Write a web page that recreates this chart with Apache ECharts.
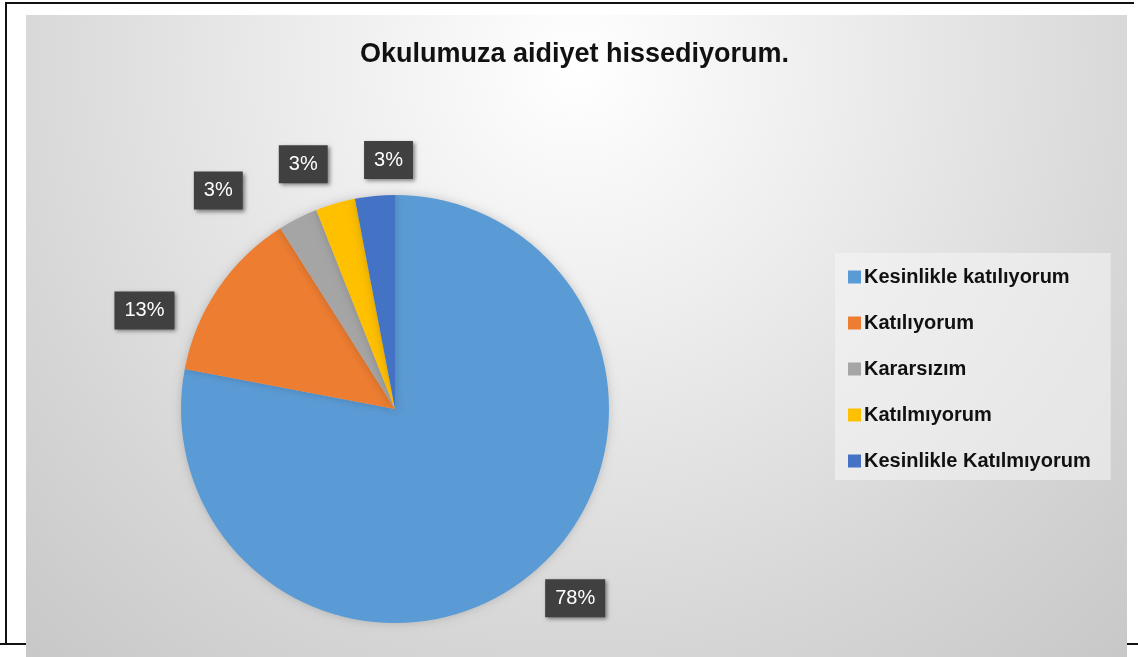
<!DOCTYPE html>
<html>
<head>
<meta charset="utf-8">
<script src="https://cdn.jsdelivr.net/npm/echarts@6/dist/echarts.min.js"></script>
<style>
html,body{margin:0;padding:0;background:#ffffff;}
#chart{width:1138px;height:657px;}
</style>
</head>
<body>
<div id="chart"></div>
<script>
const titleText = 'Okulumuza aidiyet hissediyorum.';
const categories = ['Kesinlikle katılıyorum', 'Katılıyorum', 'Kararsızım', 'Katılmıyorum', 'Kesinlikle Katılmıyorum'];
const values = [78, 13, 3, 3, 3];
const colors = ['#5B9BD5', '#ED7D31', '#A5A5A5', '#FFC000', '#4472C4'];
// small nudges of the data labels from their default "outside" spot
const labelNudge = [[-14, 9], [-12, 33], [-31, -10], [13, -20], [55, -16]];

const chart = echarts.init(document.getElementById('chart'), null, {renderer: 'canvas'});
const option = {
  animation: false,
  color: colors,
  graphic: [
    {type: 'line', z: 0, shape: {x1: 6, y1: 2, x2: 6, y2: 645}, style: {stroke: '#111', lineWidth: 2}},
    {type: 'line', z: 0, shape: {x1: 5, y1: 3, x2: 1134, y2: 3}, style: {stroke: '#111', lineWidth: 2}},
    {type: 'line', z: 0, shape: {x1: 0, y1: 644, x2: 1138, y2: 644}, style: {stroke: '#111', lineWidth: 2}},
    {
      type: 'rect', z: 1,
      shape: {x: 26, y: 15, width: 1101, height: 642},
      style: {
        fill: {
          type: 'radial', x: 0.5, y: 0.08, r: 1.3,
          colorStops: [
            {offset: 0, color: '#ffffff'},
            {offset: 0.3, color: '#eeeeee'},
            {offset: 0.7, color: '#d6d6d6'},
            {offset: 1, color: '#c6c6c6'}
          ]
        }
      }
    }
  ],
  title: {
    text: titleText,
    left: 360,
    top: 41,
    padding: 0,
    textStyle: {fontFamily: 'Liberation Sans', fontWeight: 'bold', fontSize: 27, color: '#111'}
  },
  legend: {
    orient: 'vertical',
    left: 835,
    top: 253,
    padding: [14, 20, 9, 13],
    backgroundColor: 'rgba(245,245,245,0.55)',
    itemWidth: 13,
    itemHeight: 13,
    itemGap: 26,
    icon: 'rect',
    data: categories,
    textStyle: {fontFamily: 'Liberation Sans', fontWeight: 'bold', fontSize: 20, color: '#111', padding: [0, 0, 0, -2]}
  },
  series: [{
    type: 'pie',
    center: [395, 409],
    radius: 214,
    startAngle: 90,
    clockwise: true,
    avoidLabelOverlap: false,
    percentPrecision: 0,
    itemStyle: {shadowBlur: 10, shadowColor: 'rgba(0,0,0,0.18)'},
    label: {
      show: true,
      position: 'outside',
      formatter: '{d}%',
      fontFamily: 'Liberation Sans',
      fontSize: 20,
      lineHeight: 20,
      color: '#ffffff',
      backgroundColor: '#404040',
      padding: [9, 10],
      shadowBlur: 4,
      shadowOffsetX: 2,
      shadowOffsetY: 2,
      shadowColor: 'rgba(0,0,0,0.45)'
    },
    labelLine: {show: false, length: 20, length2: 10},
    labelLayout: function (p) {
      const n = labelNudge[p.dataIndex];
      return {dx: n[0], dy: n[1]};
    },
    emphasis: {disabled: true},
    data: categories.map((c, i) => ({name: c, value: values[i]}))
  }]
};
chart.setOption(option);
</script>
</body>
</html>
